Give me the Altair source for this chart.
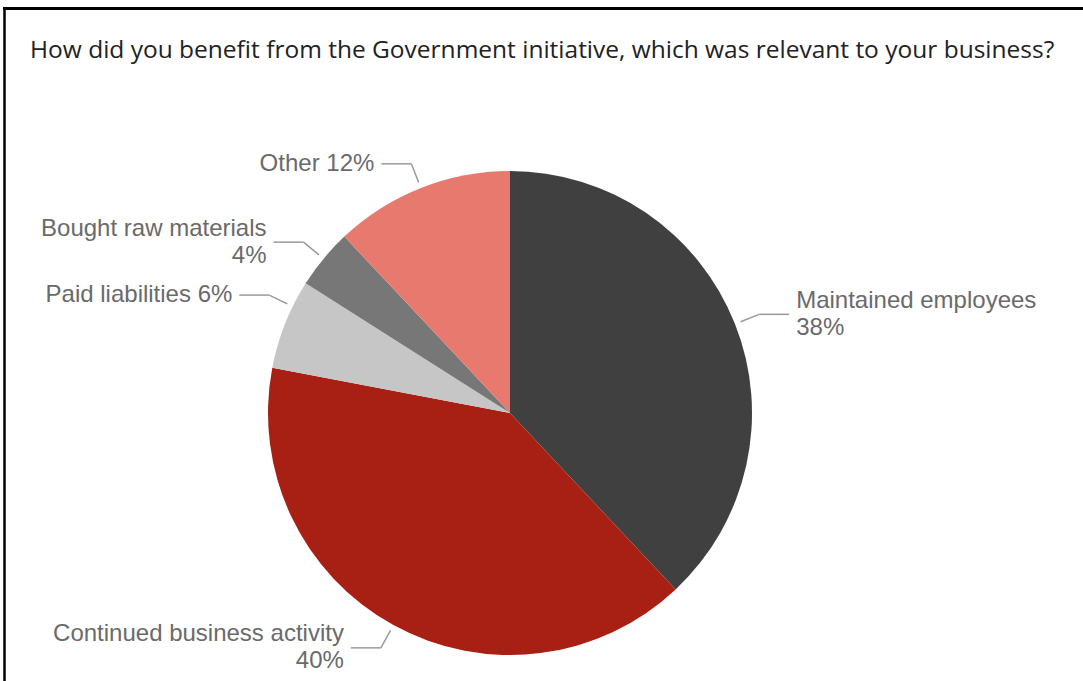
import altair as alt
import pandas as pd

# ---- data ----
categories = ["Maintained employees", "Continued business activity", "Paid liabilities",
              "Bought raw materials", "Other"]
values = [38, 40, 6, 4, 12]
label_breaks = ["\n", "\n", " ", "\n", " "]
colors = ["#404040", "#a81f14", "#c6c6c6", "#777777", "#e8796f"]
title_text = "How did you benefit from the Government initiative, which was relevant to your business?"

df = pd.DataFrame({
    "category": categories,
    "value": values,
    "order": list(range(len(categories))),
    "label": [f"{c}{b}{v}%" for c, b, v in zip(categories, label_breaks, values)],
})

# ---- layout ----
W, H = 1083, 681
CX, CY, R = 510, 413, 242
R1, R2, HL, GAP = 248, 268, 30, 7
LABEL_FONT = "Liberation Sans"
LABEL_SIZE = 24
LINE_H = 27
LABEL_COLOR = "#6a6a6a"
LEADER_COLOR = "#9a9a9a"
# small angular nudge (degrees) that keeps labels apart, as the original renderer did
NUDGE_EXPR = "datum.category == 'Paid liabilities' ? 4.5 : 0"

base = alt.Chart(df)

pie = base.mark_arc(radius=R).encode(
    theta=alt.Theta("value:Q", stack=True),
    order=alt.Order("order:Q"),
    color=alt.Color("category:N", scale=alt.Scale(domain=categories, range=colors), legend=None),
    x=alt.value(CX),
    y=alt.value(CY),
)

geo = (
    base.transform_joinaggregate(total="sum(value)")
    .transform_window(cum="sum(value)", sort=[alt.SortField("order")], frame=[None, 0])
    .transform_calculate(
        ang=f"2*PI*(datum.cum - datum.value/2)/datum.total + PI/180*({NUDGE_EXPR})"
    )
    .transform_calculate(side="sin(datum.ang) >= 0 ? 1 : -1")
    .transform_calculate(x1=f"{CX} + {R1}*sin(datum.ang)")
    .transform_calculate(y1=f"{CY} - {R1}*cos(datum.ang)")
    .transform_calculate(x2=f"{CX} + {R2}*sin(datum.ang)")
    .transform_calculate(y2=f"{CY} - {R2}*cos(datum.ang)")
    .transform_calculate(x3=f"datum.x2 + datum.side*{HL}")
    .transform_calculate(xt=f"datum.x3 + datum.side*{GAP}")
    .transform_calculate(yt=f"datum.y2 - (indexof(datum.label, '\\n') >= 0 ? {LINE_H / 2} : 0)")
)

radial = geo.mark_rule(color=LEADER_COLOR, strokeWidth=1.5).encode(
    x=alt.X("x1:Q", scale=None, axis=None),
    y=alt.Y("y1:Q", scale=None, axis=None),
    x2="x2:Q",
    y2="y2:Q",
)
horiz = geo.mark_rule(color=LEADER_COLOR, strokeWidth=1.5).encode(
    x=alt.X("x2:Q", scale=None, axis=None),
    y=alt.Y("y2:Q", scale=None, axis=None),
    x2="x3:Q",
)

text_right = geo.transform_filter("datum.side > 0").mark_text(
    align="left", baseline="middle", lineBreak="\n", lineHeight=LINE_H,
    font=LABEL_FONT, fontSize=LABEL_SIZE, color=LABEL_COLOR,
).encode(
    x=alt.X("xt:Q", scale=None, axis=None),
    y=alt.Y("yt:Q", scale=None, axis=None),
    text="label:N",
)
text_left = geo.transform_filter("datum.side < 0").mark_text(
    align="right", baseline="middle", lineBreak="\n", lineHeight=LINE_H,
    font=LABEL_FONT, fontSize=LABEL_SIZE, color=LABEL_COLOR,
).encode(
    x=alt.X("xt:Q", scale=None, axis=None),
    y=alt.Y("yt:Q", scale=None, axis=None),
    text="label:N",
)

one = alt.Chart(pd.DataFrame({"t": [title_text]}))
title = one.mark_text(
    align="left", baseline="alphabetic", font="Open Sans", fontSize=24.5,
    color="#222222",
).encode(x=alt.value(30), y=alt.value(58), text="t:N")

frame_top = one.mark_rule(color="#000000", strokeWidth=3).encode(
    x=alt.value(3), x2=alt.value(W), y=alt.value(8.5)
)
frame_left = one.mark_rule(color="#000000", strokeWidth=2.5).encode(
    x=alt.value(4.5), y=alt.value(7), y2=alt.value(H)
)

chart = alt.layer(pie, radial, horiz, text_left, text_right, title, frame_top, frame_left).properties(
    width=W, height=H, autosize="none", padding=0, background="white"
).configure_view(stroke=None)

chart.save("out.html", embed_options={"renderer": "svg", "actions": False})
